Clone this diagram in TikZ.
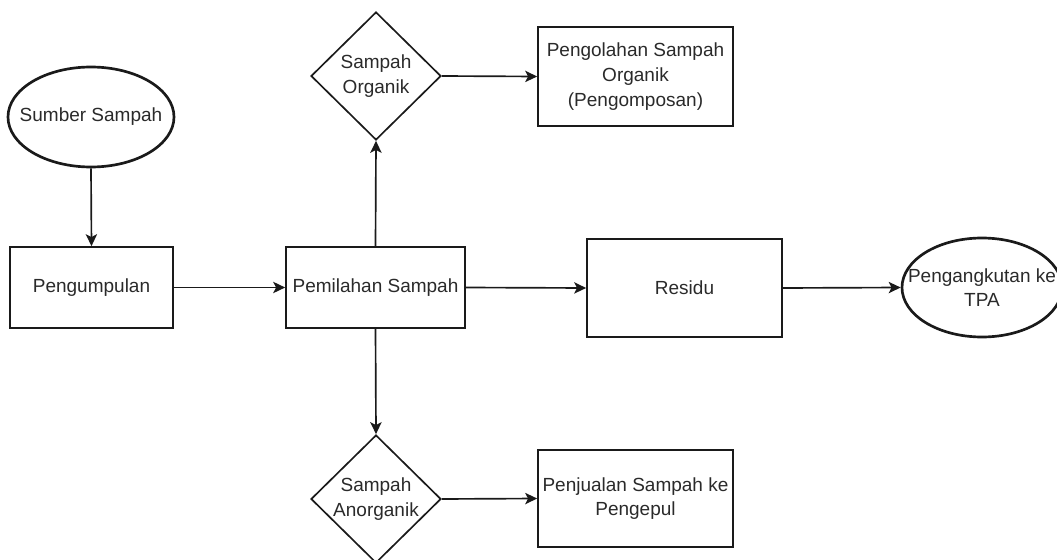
\documentclass[tikz,border=0pt]{standalone}
\usepackage{fontspec}
\setmainfont{Liberation Sans}
\usetikzlibrary{shapes.geometric,arrows.meta}
\definecolor{txt}{HTML}{2A2A2A}
\definecolor{ln}{HTML}{1A1A1A}
\begin{document}
\begin{tikzpicture}[x=0.75pt,y=-0.75pt,
  base/.style={draw=ln,text=txt,inner sep=0pt,align=center,
    font=\fontsize{14.25pt}{18.5pt}\selectfont},
  label/.style={text=txt,align=center,inner sep=0pt,font=\fontsize{14.25pt}{18.5pt}\selectfont},
  boxnode/.style={base,rectangle,line width=1.25pt},
  ovalnode/.style={base,ellipse,line width=2pt},
  decnode/.style={base,diamond,line width=1.25pt,aspect=1},
  conn/.style={draw=ln,line width=1.25pt,-{Stealth[length=9pt,width=8.5pt,inset=2.2pt]}}]
\useasboundingbox (0,0) rectangle (1057,560);
\node[ovalnode,minimum width=166*0.75pt,minimum height=100*0.75pt] (sumber) at (91,117) {};
\node[label] at (sumber.center) {Sumber Sampah};
\node[boxnode,minimum width=163*0.75pt,minimum height=81*0.75pt] (kumpul) at (91.5,287.5) {Pengumpulan};
\node[boxnode,minimum width=179*0.75pt,minimum height=81*0.75pt] (pilah) at (375.5,287.5) {Pemilahan Sampah};
\node[boxnode,minimum width=195*0.75pt,minimum height=98*0.75pt] (residu) at (684.5,288) {Residu};
\node[ovalnode,minimum width=160*0.75pt,minimum height=99*0.75pt] (angkut) at (982,287.5) {};
\node[label] at (angkut.center) {Pengangkutan ke\\TPA};
\node[decnode,minimum width=130*0.75pt,minimum height=128*0.75pt] (organik) at (376,76) {};
\node[label] at (organik.center) {Sampah\\Organik};
\node[boxnode,minimum width=195*0.75pt,minimum height=99*0.75pt] (olah) at (635.5,76.5) {Pengolahan Sampah\\Organik\\(Pengomposan)};
\node[decnode,minimum width=130*0.75pt,minimum height=128*0.75pt] (anorganik) at (376,499) {};
\node[label] at (anorganik.center) {Sampah\\Anorganik};
\node[boxnode,minimum width=195*0.75pt,minimum height=97*0.75pt] (jual) at (635.5,498.5) {Penjualan Sampah ke\\Pengepul};
\draw[conn] (sumber.south) -- (kumpul.north);
\draw[conn] (kumpul.east) -- (pilah.west);
\draw[conn] (pilah.north) -- (organik.south);
\draw[conn] (organik.east) -- (olah.west);
\draw[conn] (pilah.east) -- (residu.west);
\draw[conn] (residu.east) -- (angkut.west);
\draw[conn] (pilah.south) -- (anorganik.north);
\draw[conn] (anorganik.east) -- (jual.west);
\end{tikzpicture}
\end{document}
